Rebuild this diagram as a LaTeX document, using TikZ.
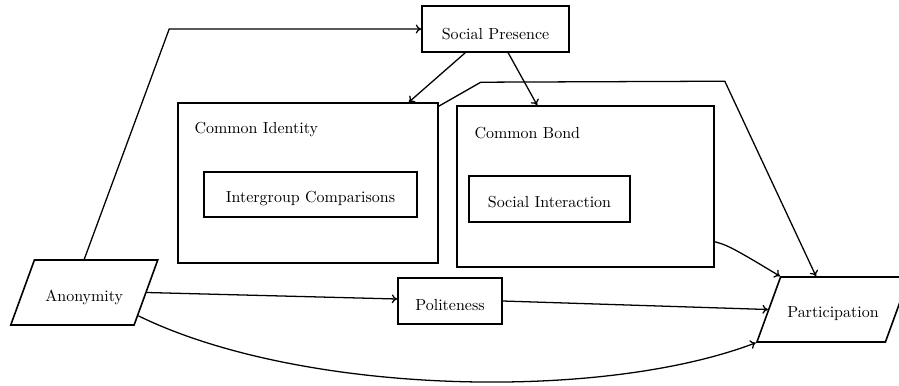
\documentclass[tikz,border=0pt]{standalone}
\usetikzlibrary{shapes.geometric,calc,arrows.meta}
\newdimen\px \px=0.625pt
\begin{document}
\begin{tikzpicture}[x=0.625pt,y=-0.625pt,
  box/.style={draw, line width=1pt, rectangle, inner sep=0pt},
  para/.style={draw, line width=1pt, trapezium, trapezium left angle=70,
    trapezium right angle=110},
  conn/.style={-{To[length=3.4pt,width=5.6pt]}, line width=0.8pt},
  lbl/.style={anchor=base west, inner sep=0pt}]
\useasboundingbox (0,0) rectangle (899,385);
% nodes
\node[box, minimum width=147\px, minimum height=46\px, text height=13pt, text depth=0pt] (sp) at (495.5,29) {Social Presence};
\node[box, minimum width=260\px, minimum height=160\px] (ci) at (308,183) {};
\node[lbl] (cil) at ($(ci.north west)+(17,31)$) {Common Identity};
\node[box, minimum width=213\px, minimum height=45\px, text height=10.6pt, text depth=0pt] (ig) at (310.5,194.5) {Intergroup Comparisons};
\node[box, minimum width=257\px, minimum height=161\px] (cb) at (585.5,186.5) {};
\node[lbl] (cbl) at ($(cb.north west)+(18,33)$) {Common Bond};
\node[box, minimum width=161\px, minimum height=46\px, text height=11.2pt, text depth=0pt] (si) at (549.5,199) {Social Interaction};
\node[box, minimum width=104\px, minimum height=46\px, text height=12pt, text depth=0pt] (pol) at (450,301) {Politeness};
\node[para, inner xsep=6.85pt, inner ysep=14.7pt, text height=11.2pt, text depth=0pt] (an) at (84.25,292.5) {Anonymity};
\node[para, inner xsep=4.2pt, inner ysep=15pt, text height=10.6pt, text depth=0pt] (pa) at (833,309.5) {Participation};
% connectors
\draw[conn] (an.north) -- ($(sp.west)+(-252,0)$) -- (sp.west);
\draw[conn] ($(sp.south west)+(44,0)$) -- ($(ci.north east)+(-30,0)$);
\draw[conn] ($(sp.south west)+(87,0)$) -- ($(cb.north west)+(81,0)$);
\draw[conn] ($(ci.north east)+(0,4)$) -- ++(42,-24) -- ++(244,-1) -- ($(pa.top left corner)+(36,0)$);
\draw[conn] ($(cb.south east)+(0,-26)$) .. controls ($(cb.south east)+(12,-23)$) and ($(cb.south east)+(18,-20)$) .. (pa.top left corner);
\draw[conn] (an.east) -- ($(pol.west)+(0,-2)$);
\draw[conn] (pol.east) -- (pa.west);
\draw[conn] ($(an.bottom right corner)!0.15!(an.top right corner)$) .. controls (300,395) and (600,402) .. (pa.bottom left corner);
\end{tikzpicture}
\end{document}
